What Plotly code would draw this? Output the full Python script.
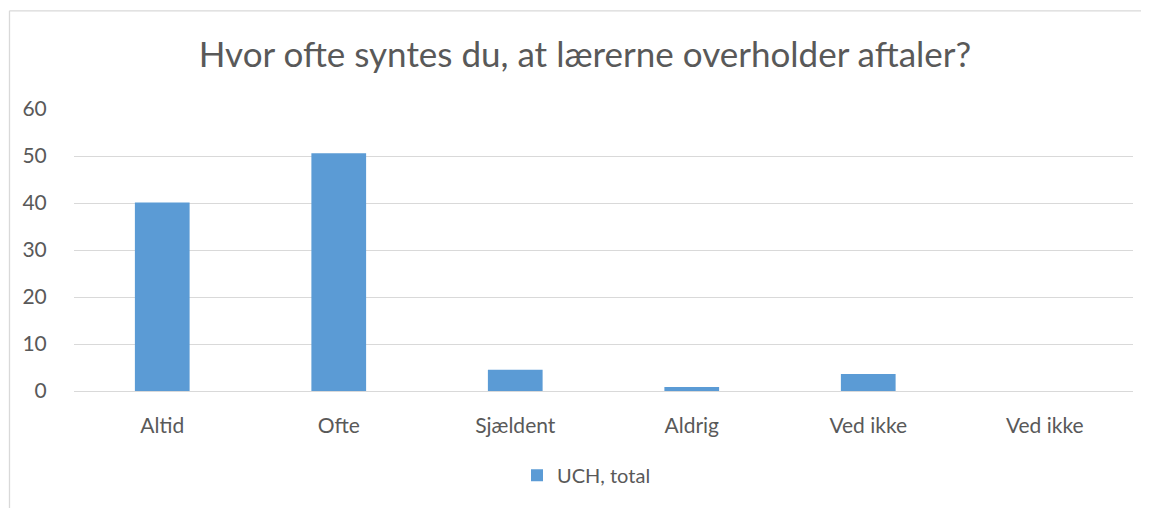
import plotly.graph_objects as go

categories = ["Altid", "Ofte", "Sjældent", "Aldrig", "Ved ikke", "Ved ikke "]
tick_labels = ["Altid", "Ofte", "Sjældent", "Aldrig", "Ved ikke", "Ved ikke"]
values = [40.1, 50.6, 4.5, 0.85, 3.6, 0]
series_name = "UCH, total"
title_text = "Hvor ofte syntes du, at lærerne overholder aftaler?"

FONT = "Lato"
TXT = "#595959"
GRID = "#d9d9d9"

fig = go.Figure()
fig.add_trace(go.Bar(
    x=categories, y=values, name=series_name,
    marker=dict(color="#5b9bd5", line=dict(width=0)),
    showlegend=True,
))

OFF = 8  # page body margin
W, H = 1149 - OFF, 508 - OFF
L, R, T, B = 74 - OFF, 16, 109 - OFF, 116.5
pw = W - L - R
ph = H - T - B

def px(x):
    return (x - OFF - L) / pw

def py(y):
    return (H - B - (y - OFF)) / ph

fig.update_layout(
    width=W, height=H,
    margin=dict(l=L, r=R, t=T, b=B, pad=0),
    paper_bgcolor="white", plot_bgcolor="white",
    bargap=0.69,
    title=dict(text=title_text, x=(585 - OFF) / W, xref="container", xanchor="center",
               y=1 - (55 - OFF) / H, yanchor="middle",
               font=dict(family=FONT, size=35, color=TXT)),
    font=dict(family=FONT, color=TXT),
    xaxis=dict(
        tickvals=categories, ticktext=tick_labels,
        showgrid=False, zeroline=False, showline=False,
        ticks="outside", ticklen=16, tickcolor="rgba(0,0,0,0)",
        tickfont=dict(family=FONT, size=21, color=TXT),
    ),
    yaxis=dict(
        range=[0, 60], dtick=10, tick0=0,
        showgrid=True, gridcolor=GRID, gridwidth=1.3,
        zeroline=True, zerolinecolor=GRID, zerolinewidth=1.3,
        showline=False,
        ticks="outside", ticklen=22, tickcolor="rgba(0,0,0,0)",
        tickfont=dict(family=FONT, size=21, color=TXT),
    ),
    legend=dict(orientation="h", x=0.5 - 17 / pw, xanchor="center",
                y=py(476), yanchor="middle",
                font=dict(family=FONT, size=20, color=TXT),
                itemsizing="constant"),
    shapes=[
        dict(type="line", xref="paper", yref="paper",
             x0=px(9.5), x1=px(9.5), y0=py(10.7), y1=py(520),
             line=dict(color=GRID, width=1.3)),
        dict(type="line", xref="paper", yref="paper",
             x0=px(9.5), x1=px(1160), y0=py(10.7), y1=py(10.7),
             line=dict(color=GRID, width=1.3)),
    ],
)

fig.write_html("out.html")
